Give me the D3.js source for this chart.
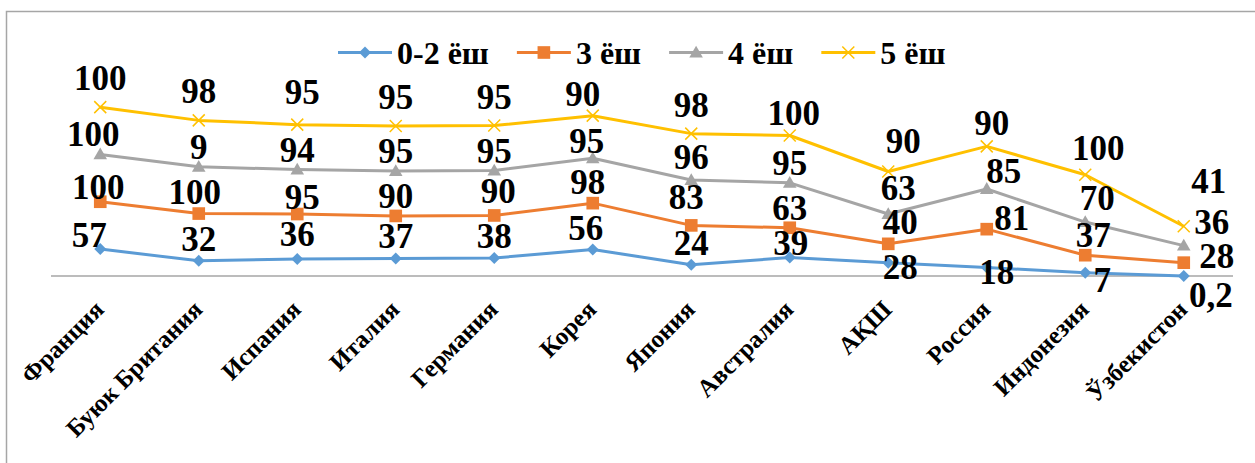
<!DOCTYPE html>
<html>
<head>
<meta charset="utf-8">
<script src="https://cdn.jsdelivr.net/npm/d3@7"></script>
<style>
  body { margin: 0; background: #fff; }
  svg text { font-family: "Liberation Serif", "Times New Roman", Tinos, serif; font-weight: bold; fill: #000; }
</style>
</head>
<body>
<div id="d3-container"></div>
<script>
/**
 * DATA
 * */
const categories = ["Франция", "Буюк Британия", "Испания", "Италия", "Германия", "Корея",
  "Япония", "Австралия", "АҚШ", "Россия", "Индонезия", "Ўзбекистон"];
const seriesNames = ["0-2 ёш", "3 ёш", "4 ёш", "5 ёш"];
const age02 = [57, 32, 36, 37, 38, 56, 24, 39, 28, 18, 7, 0.2];
const age3 = [100, 100, 95, 90, 90, 98, 83, 63, 40, 81, 37, 28];
const age4 = [100, 99, 94, 95, 95, 95, 96, 95, 63, 85, 70, 36];
const age5 = [100, 98, 95, 95, 95, 90, 98, 100, 90, 90, 100, 41];
// the label on Britain's 4 ёш point is printed as "9" in the source
const labelOverride = { "4 ёш|1": "9" };

/**
 * CONSTANTS
 * */
const width = 1255, height = 463;
const colors = ["#5B9BD5", "#ED7D31", "#A5A5A5", "#FFC000"];
const symbols = ["diamond", "square", "triangle", "cross"];

// label centre offset from its point, per series, then manual nudges (like dragged Excel labels)
const labelDy = { "0-2 ёш": -22, "3 ёш": -20, "4 ёш": -20, "5 ёш": -29 };
const labelNudge = {
  "5 ёш|2": [5, -33], "5 ёш|5": [-10, -22], "5 ёш|7": [4, -23], "5 ёш|8": [15, -30],
  "5 ёш|9": [5, -23], "5 ёш|10": [13, -27], "5 ёш|11": [25, -45],
  "4 ёш|0": [-7, -20], "4 ёш|5": [-6, -17], "4 ёш|8": [10, -26], "4 ёш|9": [17, -18],
  "4 ёш|10": [12, -24], "4 ёш|11": [28, -24], "4 ёш|6": [0, -23],
  "3 ёш|0": [-2, -15], "3 ёш|1": [-4, -22], "3 ёш|2": [5, -17], "3 ёш|4": [4, -24],
  "3 ёш|5": [-5, -21], "3 ёш|6": [-5, -28], "3 ёш|8": [12, -22], "3 ёш|9": [25, -11],
  "3 ёш|10": [8, -20], "3 ёш|11": [33, -7],
  "0-2 ёш|0": [-11, -14], "0-2 ёш|2": [0, -25], "0-2 ёш|5": [-7, -22], "0-2 ёш|7": [1, -15],
  "0-2 ёш|8": [12, 4], "0-2 ёш|9": [10, 5], "0-2 ёш|10": [17, 7], "0-2 ёш|11": [27, 19]
};

const rows = categories.map((c, i) => ({
  country: c,
  "0-2 ёш": age02[i], "3 ёш": age3[i], "4 ёш": age4[i], "5 ёш": age5[i]
}));

// stacked line chart: each line sits on the one below it
const stacked = d3.stack().keys(seriesNames)(rows);

const x = d3.scalePoint().domain(categories).range([51, 1233]).padding(0.5);
const y = d3.scaleLinear().domain([0, 400]).range([276, 276 - 0.473 * 400]);

const svg = d3.select("#d3-container")
  .append("svg")
  .attr("width", width)
  .attr("height", height);

// chart frame (runs off the right and bottom of the picture)
svg.append("rect")
  .attr("x", 6.5).attr("y", 11.5)
  .attr("width", 1300).attr("height", 500)
  .attr("fill", "none")
  .attr("stroke", "#a6a6a6")
  .attr("stroke-width", 1.5);

// x axis
const xAxis = svg.append("g")
  .attr("transform", `translate(0, ${y(0)})`)
  .call(d3.axisBottom(x).tickSize(0).tickFormat(""));
xAxis.select(".domain").attr("stroke", "#a6a6a6").attr("stroke-width", 1.5)
  .attr("d", `M51,0H1233`);

svg.append("g").selectAll("text")
  .data(categories)
  .join("text")
  .attr("transform", d => `translate(${x(d) + 5}, 311) rotate(-45)`)
  .attr("text-anchor", "end")
  .style("font-size", "25px")
  .text(d => d);

function symbolPath(kind) {
  if (kind === "diamond") return d3.symbol(d3.symbolSquare, 72)();
  if (kind === "square") return d3.symbol(d3.symbolSquare, 160)();
  if (kind === "triangle") return d3.symbol(d3.symbolTriangle, 80)();
  return "M-6,-6L6,6M-6,6L6,-6";
}
function symbolTransform(kind, px, py) {
  return kind === "diamond" ? `translate(${px},${py}) rotate(45)`
    : kind === "triangle" ? `translate(${px},${py + 1})` : `translate(${px},${py})`;
}

const line = d3.line()
  .x((d, i) => x(categories[i]))
  .y(d => y(d[1]));

stacked.forEach((s, si) => {
  const g = svg.append("g");
  g.append("path")
    .datum(s)
    .attr("fill", "none")
    .attr("stroke", colors[si])
    .attr("stroke-width", 3)
    .attr("stroke-linejoin", "round")
    .attr("d", line);

  const kind = symbols[si];
  g.selectAll("path.mark")
    .data(s)
    .join("path")
    .attr("class", "mark")
    .attr("d", symbolPath(kind))
    .attr("transform", (d, i) => symbolTransform(kind, x(categories[i]), y(d[1])))
    .attr("fill", kind === "cross" ? "none" : colors[si])
    .attr("stroke", colors[si])
    .attr("stroke-width", kind === "cross" ? 1.5 : 0);
});

// data labels, drawn last so they sit on top
const fmt = v => String(v).replace(".", ",");
stacked.forEach((s, si) => {
  const key = s.key;
  svg.append("g").selectAll("text")
    .data(s)
    .join("text")
    .attr("x", (d, i) => x(categories[i]) + (labelNudge[`${key}|${i}`] || [0])[0])
    .attr("y", (d, i) => {
      const n = labelNudge[`${key}|${i}`];
      const dy = n ? n[1] : labelDy[key];
      return y(d[1]) + dy + 12;
    })
    .attr("text-anchor", "middle")
    .style("font-size", "35px")
    .text((d, i) => labelOverride[`${key}|${i}`] || fmt(d.data[key]));
});

// legend
const legend = svg.append("g").attr("transform", "translate(338, 52.5)");
let lx = 0;
seriesNames.forEach((name, si) => {
  const item = legend.append("g").attr("transform", `translate(${lx},0)`);
  item.append("line")
    .attr("x1", 0).attr("x2", 54)
    .attr("stroke", colors[si]).attr("stroke-width", 3);
  const kind = symbols[si];
  item.append("path")
    .attr("d", symbolPath(kind))
    .attr("transform", symbolTransform(kind, 27, 0))
    .attr("fill", kind === "cross" ? "none" : colors[si])
    .attr("stroke", colors[si])
    .attr("stroke-width", kind === "cross" ? 1.5 : 0);
  const t = item.append("text")
    .attr("x", 59).attr("y", 11)
    .style("font-size", "32px")
    .text(name);
  lx += 59 + t.node().getComputedTextLength() + 28;
});
</script>
</body>
</html>
